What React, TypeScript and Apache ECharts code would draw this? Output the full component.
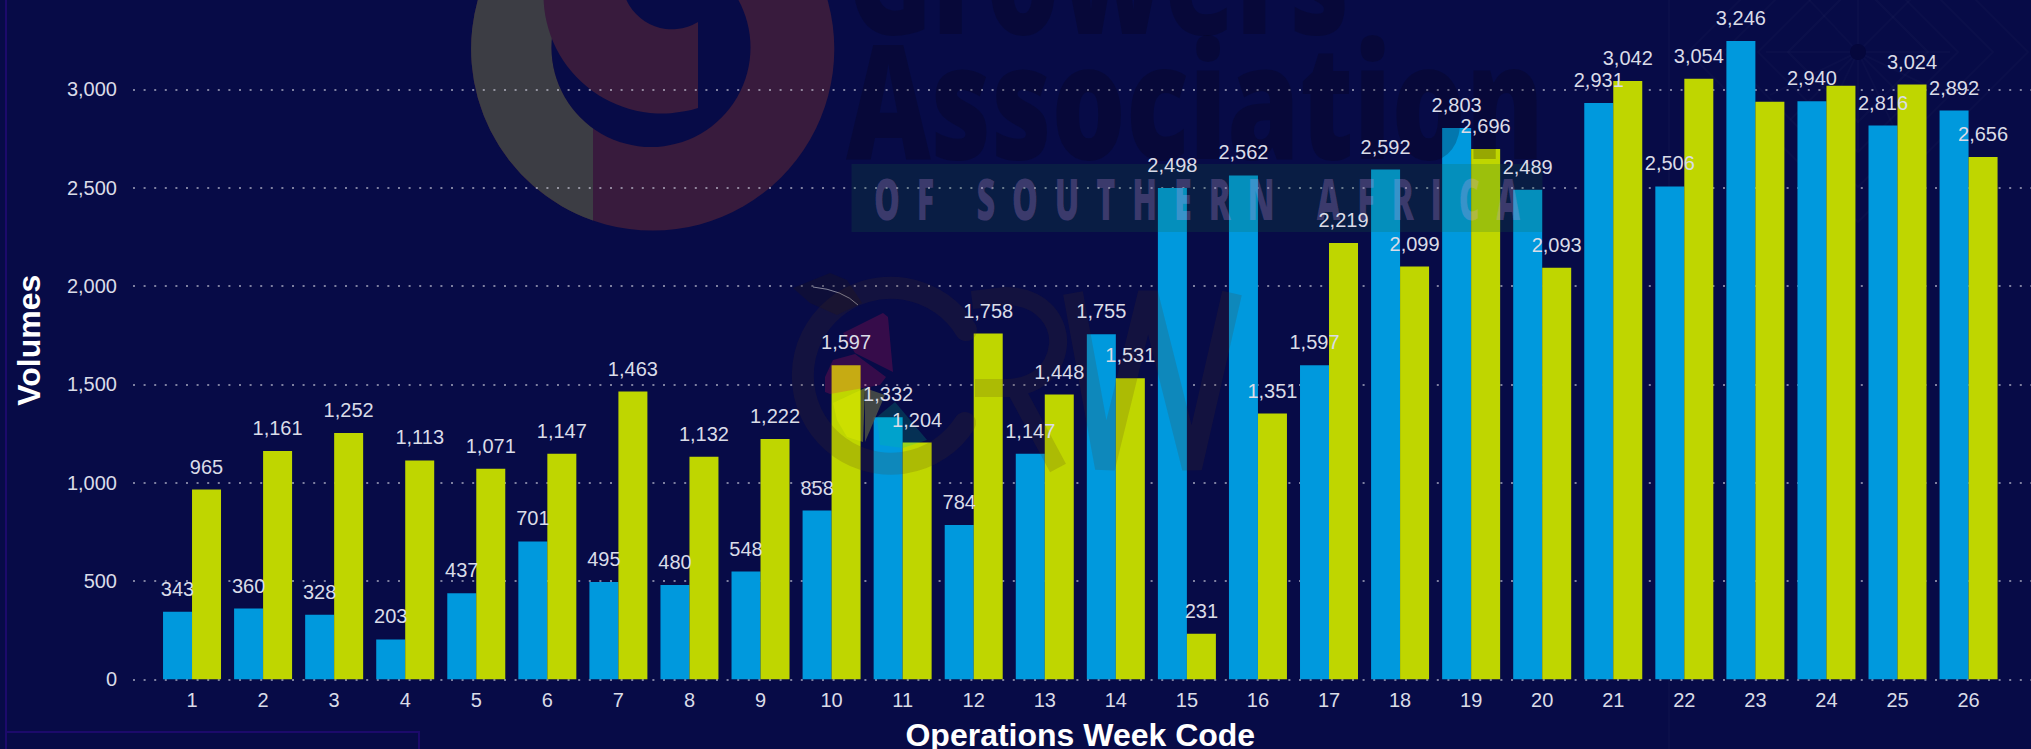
import React, { useEffect, useRef } from "react";
import * as echarts from "echarts";

const weeks = ["1","2","3","4","5","6","7","8","9","10","11","12","13","14","15","16","17","18","19","20","21","22","23","24","25","26"];
const blueValues = [343,360,328,203,437,701,495,480,548,858,1332,784,1147,1755,2498,2562,1597,2592,2803,2489,2931,2506,3246,2940,2816,2892];
const greenValues = [965,1161,1252,1113,1071,1147,1463,1132,1222,1597,1204,1758,1448,1531,231,1351,2219,2099,2696,2093,3042,3054,2937,3018,3024,2656];
const unlabelledGreenWeeks = ["23", "24"];

const BG = "#070B47";
const BLUE = "#0099DD";
const GREEN = "#BFD600";
const TEXT = "#DADCE8";
const FONT = "'Liberation Sans', Arial, sans-serif";
const LOGO_FONT = "'Open Sans', 'Liberation Sans', sans-serif";

const shapes: Record<string, string> = {
  logoGrey: "M593,220.5 A181.6,181.6 0 0 1 479.3,-5 L566.5,-5 A99.5,99.5 0 0 0 593,128.3 Z",
  logoInner: "M698,107.9 A118.5,118.5 0 0 1 543.5,-5 L624.5,-5 A50,50 0 0 0 698,22 Z",
  crwC: "M966,330 A88,88 0 1 0 965,423",
  crwR: "M972,300 L1005,296 C1045,296 1060,325 1058,345 C1055,375 1030,388 1005,388 L975,388 M1015,388 L1058,468",
  crwW: "M1073,293 L1105,468 L1148,293 L1192,468 L1232,293",
  crwHair: "M813,287 Q843,290 858,305",
  patternRays: "M1858,52 L1858,-40 M1858,52 L1950,52 M1858,52 L1766,52 M1858,52 L1858,150 M1858,52 L1800,-10 M1858,52 L1920,-10 M1858,52 L1790,120 M1858,52 L1926,120 M1858,52 L1815,140 M1858,52 L1900,140 M1858,52 L1770,95 M1858,52 L1946,95",
};
Object.keys(shapes).forEach((k) => {
  echarts.graphic.registerShape(k, echarts.graphic.extendPath(shapes[k], {}));
});

const under = (o: any) => ({ silent: true, z: 0, ...o });
const over = (o: any) => ({ silent: true, z: 3, ...o });
const CRW_DARK = "rgba(83,53,24,0.17)";
const FAINT = "rgba(255,255,255,0.018)";
const WORD = "rgba(7,0,11,0.22)";
const poly = (points: number[][], fill: string) => over({ type: "polygon", shape: { points }, style: { fill } });
const diamond = (r: number) => under({
  type: "polygon",
  shape: { points: [[1858, 52 - r], [1858 + r, 52], [1858, 52 + r], [1858 - r, 52]] },
  style: { fill: "none", stroke: FAINT, lineWidth: 2 },
});

const graphicElements = [
  // background pattern
  under({ type: "rect", shape: { x: 1668, y: 0, width: 2, height: 749 }, style: { fill: FAINT } }),
  diamond(70), diamond(100), diamond(135), diamond(170),
  under({ type: "patternRays", style: { fill: "none", stroke: FAINT, lineWidth: 2 } }),
  under({ type: "circle", shape: { cx: 1858, cy: 52, r: 8 }, style: { fill: "#05073C" } }),
  // page frame
  under({ type: "line", shape: { x1: 6, y1: 0, x2: 6, y2: 749 }, style: { stroke: "#1C0A6B", lineWidth: 2 } }),
  under({ type: "polyline", shape: { points: [[6, 732], [419, 732], [419, 749]] }, style: { fill: "none", stroke: "#1C0A6B", lineWidth: 2 } }),
  // main logo
  under({ type: "circle", shape: { cx: 652.7, cy: 49, r: 181.6 }, style: { fill: "#381B3D" } }),
  under({ type: "logoGrey", style: { fill: "#3C3D44" } }),
  under({ type: "circle", shape: { cx: 651, cy: 47.5, r: 99.5 }, style: { fill: BG } }),
  under({ type: "logoInner", style: { fill: "#381B3D" } }),
  // wordmark
  over({ type: "text", x: 847, y: -28, scaleX: 0.72, style: { x: 0, y: 0, text: "Growers", font: "800 160px " + LOGO_FONT, fill: WORD, align: "left", verticalAlign: "middle" } }),
  over({ type: "text", x: 846, y: 97, scaleX: 0.73, style: { x: 0, y: 0, text: "Association", font: "800 160px " + LOGO_FONT, fill: WORD, align: "left", verticalAlign: "middle" } }),
  over({ type: "rect", shape: { x: 851.5, y: 164, width: 691, height: 68 }, style: { fill: "rgba(22,107,61,0.2)" } }),
  over({ type: "text", x: 874, y: 198, scaleX: 0.58, style: { x: 0, y: 0, text: "O  F     S  O  U  T  H  E  R  N     A  F  R  I  C  A", font: "800 56px " + LOGO_FONT, fill: "rgba(242,164,255,0.22)", align: "left", verticalAlign: "middle" } }),
  // CRW mark
  poly([[793, 288], [830, 273], [847, 280], [862, 303], [837, 315], [810, 303]], "rgba(30,20,30,0.35)"),
  over({ type: "crwHair", style: { fill: "none", stroke: "rgba(255,255,255,0.5)", lineWidth: 1 } }),
  over({ type: "crwC", style: { fill: "none", stroke: CRW_DARK, lineWidth: 22, lineCap: "round" } }),
  over({ type: "crwR", style: { fill: "none", stroke: CRW_DARK, lineWidth: 18 } }),
  over({ type: "crwW", style: { fill: "none", stroke: CRW_DARK, lineWidth: 20 } }),
  poly([[843, 333], [883, 313], [888, 317], [893, 372], [855, 353]], "rgba(225,20,85,0.22)"),
  poly([[855, 354], [886, 377], [880, 385], [830, 394], [825, 392], [825, 377], [833, 360]], "rgba(225,20,85,0.22)"),
  poly([[833, 403], [865, 388], [863, 442], [847, 437], [837, 420]], "rgba(230,240,0,0.35)"),
  poly([[865, 388], [885, 395], [865, 442]], "rgba(80,85,70,0.8)"),
  poly([[895, 402], [927, 440], [903, 448], [880, 445], [877, 417]], "rgba(0,200,140,0.2)"),
];

const TOP = -9;
const PLOT_H = 688.3;
const labelStyle = { show: true, position: "top", distance: 13, color: TEXT, fontFamily: FONT, fontSize: 20, formatter: (p: any) => Number(p.value).toLocaleString("en-US") };
const barBase = { type: "bar", barWidth: 29, barGap: 0, yAxisIndex: 1 };
// Bars sit under the watermark, their value labels above it.
const barLayer = { ...barBase, xAxisIndex: 1, z: 2, label: { show: false } };
const labelLayer = { ...barBase, xAxisIndex: 2, z: 4, itemStyle: { color: "transparent" }, label: labelStyle };

export default function App() {
  const ref = useRef<HTMLDivElement>(null);
  useEffect(() => {
    document.body.style.margin = "0";
    const chart = echarts.init(ref.current!, undefined, { renderer: "svg" });
    chart.setOption({
      animation: false,
      backgroundColor: BG,
      graphic: { elements: graphicElements },
      grid: [
        { left: 133, right: 0, top: TOP, height: PLOT_H, outerBoundsMode: "none" },
        { left: 156.5, width: 1847.6, top: TOP, height: PLOT_H, outerBoundsMode: "none" },
      ],
      xAxis: [
        { gridIndex: 0, type: "value", min: 0, max: 1, show: false },
        {
          gridIndex: 1,
          type: "category",
          data: weeks,
          axisLine: { show: false },
          axisTick: { show: false },
          axisLabel: { color: TEXT, fontFamily: FONT, fontSize: 20, margin: 11, interval: 0 },
          name: "Operations Week Code",
          nameLocation: "middle",
          nameGap: 40,
          nameTextStyle: { color: "#FFFFFF", fontFamily: FONT, fontWeight: "bold", fontSize: 32 },
        },
        { gridIndex: 1, type: "category", data: weeks, show: false },
      ],
      yAxis: [
        {
          gridIndex: 0,
          type: "value",
          min: 0,
          max: 3500,
          interval: 500,
          z: 1,
          axisLine: { show: false },
          axisTick: { show: false },
          axisLabel: { color: TEXT, fontFamily: FONT, fontSize: 20, margin: 16, showMaxLabel: false },
          splitLine: { show: true, lineStyle: { color: "rgba(205,205,220,0.6)", width: 2, type: [2, 8.6] } },
          name: "Volumes",
          nameLocation: "middle",
          nameGap: 88,
          nameTextStyle: { color: "#FFFFFF", fontFamily: FONT, fontWeight: "bold", fontSize: 32, padding: [0, 10, 0, 0] },
        },
        { gridIndex: 1, type: "value", min: 0, max: 3500, interval: 500, show: false, splitLine: { show: false } },
      ],
      series: [
        { ...barLayer, data: blueValues, itemStyle: { color: BLUE } },
        { ...barLayer, data: greenValues, itemStyle: { color: GREEN } },
        { ...labelLayer, data: blueValues },
        {
          ...labelLayer,
          data: greenValues.map((value, i) =>
            unlabelledGreenWeeks.includes(weeks[i]) ? { value, label: { show: false } } : value
          ),
        },
      ],
    });
    return () => chart.dispose();
  }, []);
  return <div ref={ref} style={{ width: 2031, height: 749 }} />;
}
